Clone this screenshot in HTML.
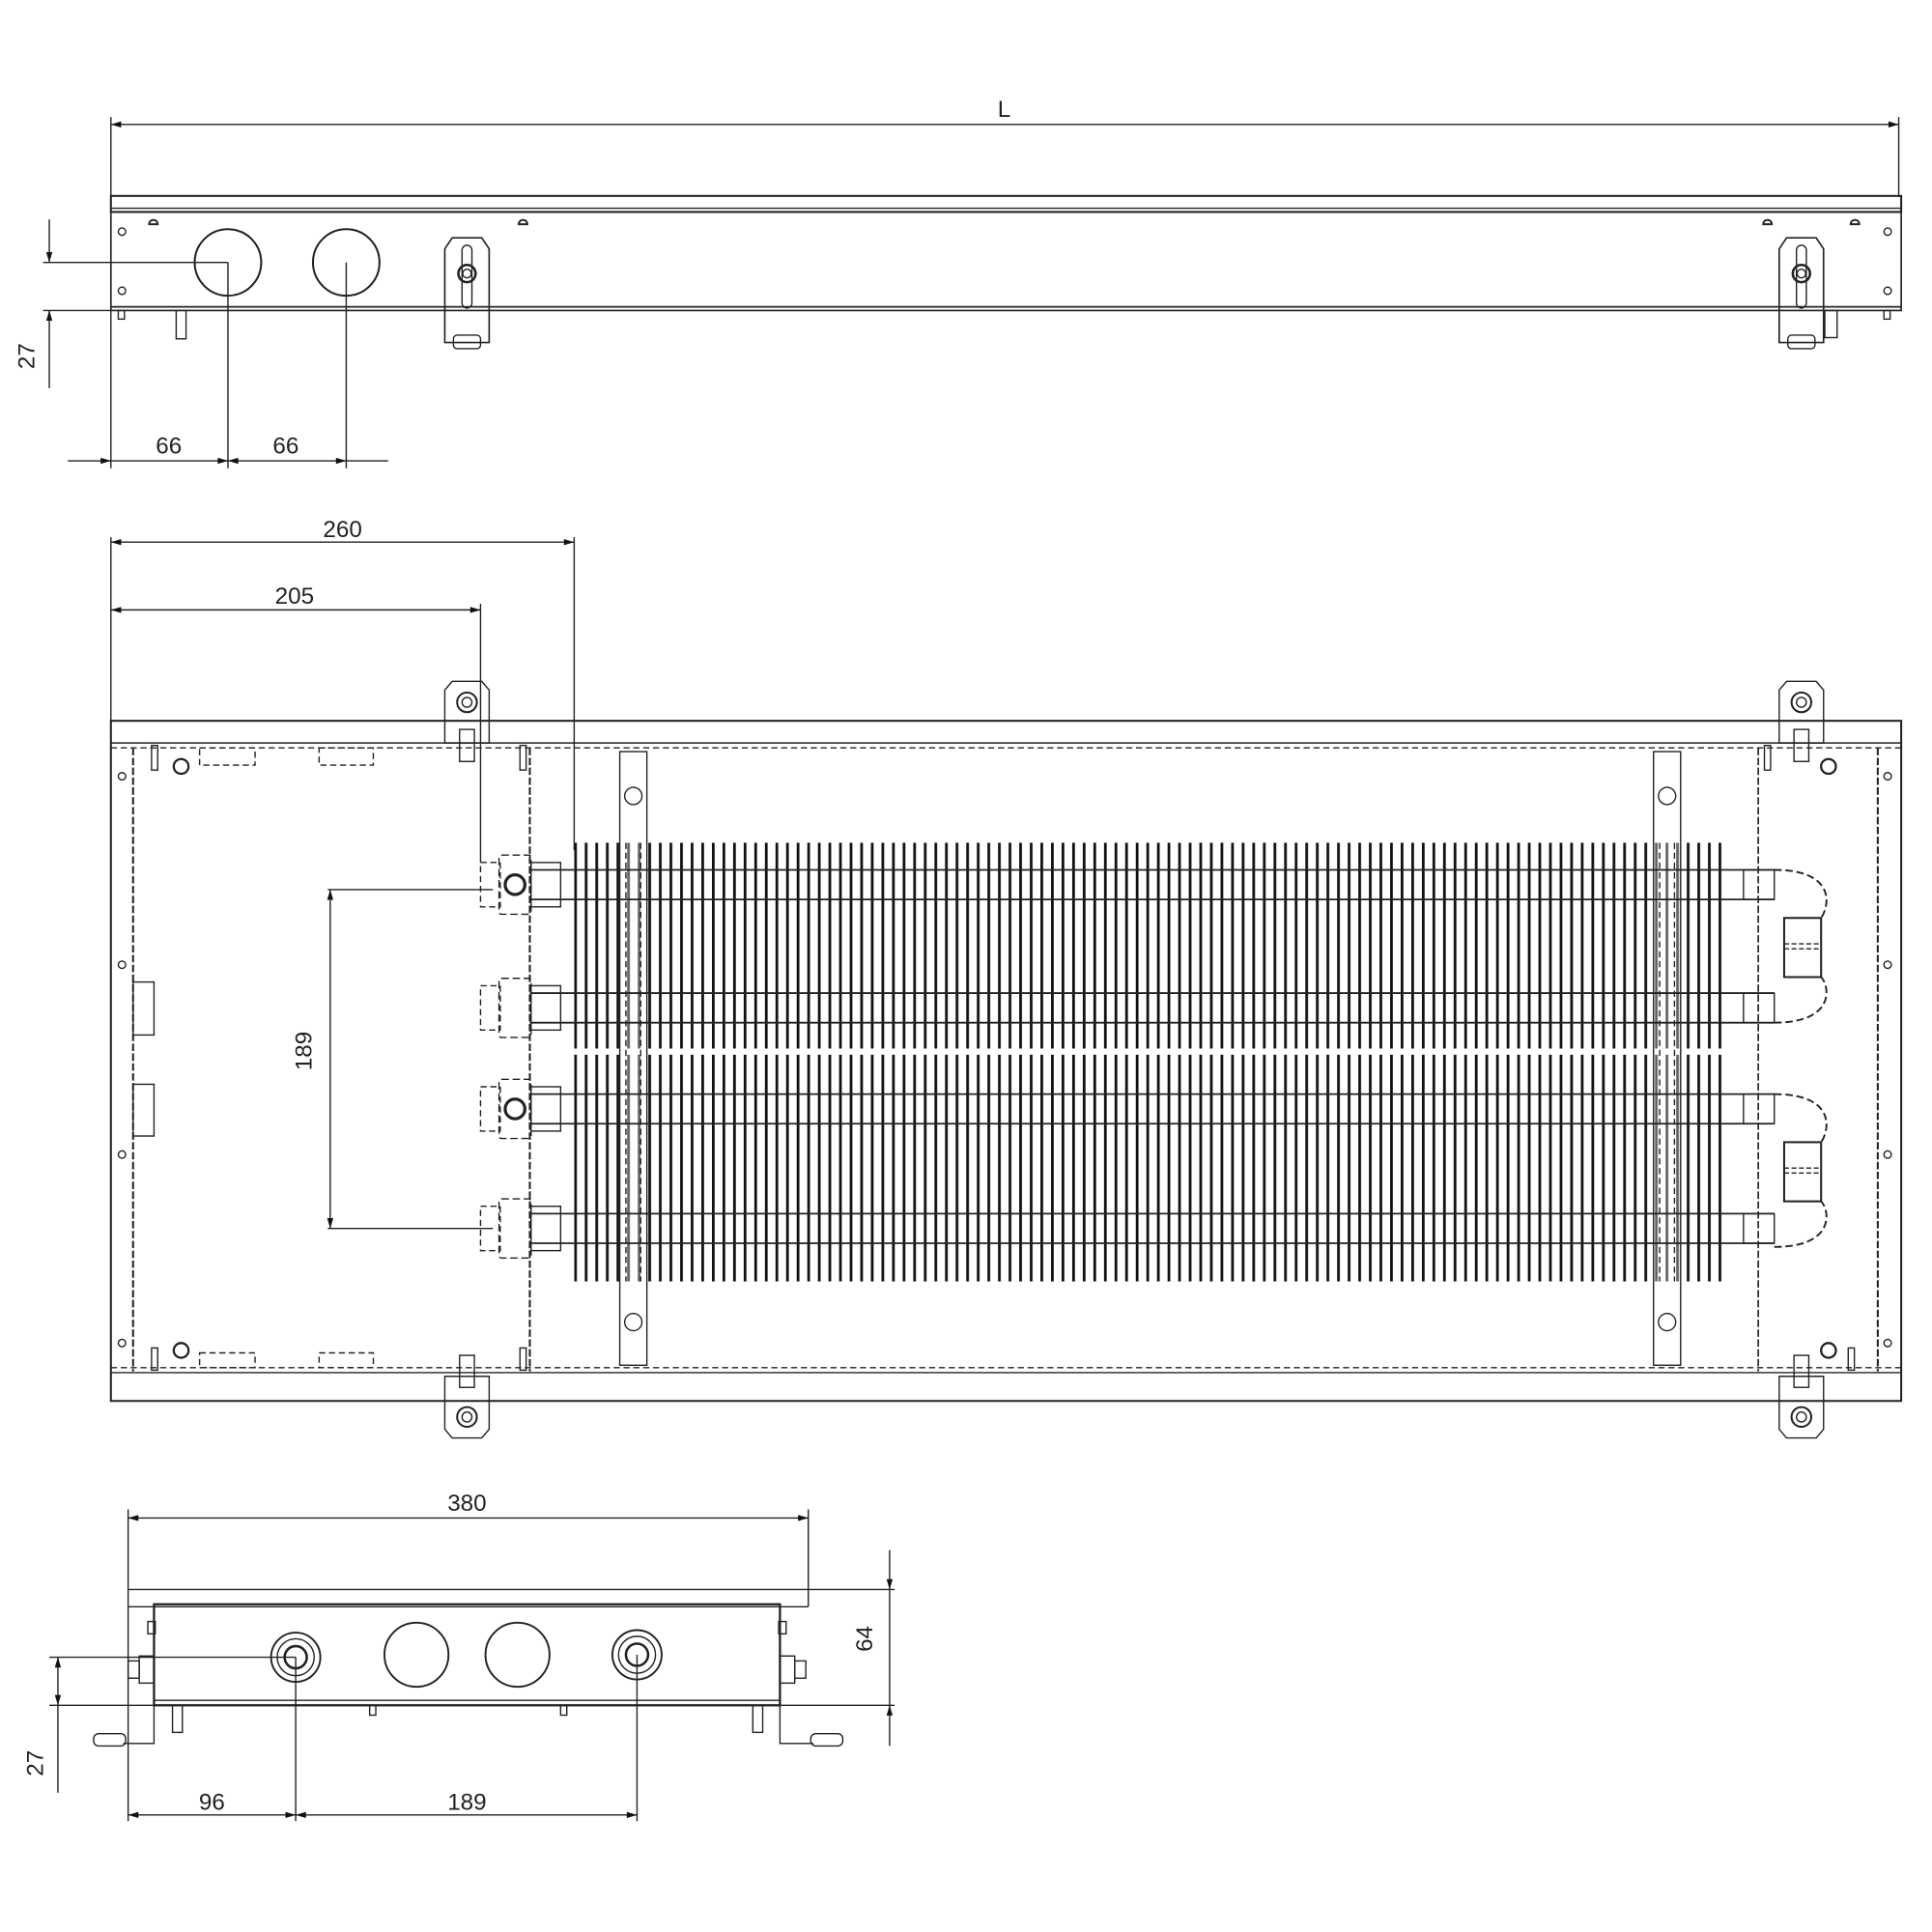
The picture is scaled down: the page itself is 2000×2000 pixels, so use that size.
<!DOCTYPE html>
<html><head><meta charset="utf-8"><style>
html,body{margin:0;padding:0;background:#fff}
svg{display:block}
text{font-family:"Liberation Sans",sans-serif;font-size:19px;fill:#222}
</style></head><body>
<svg width="2000" height="2000" viewBox="0 0 1568 1568" xmlns="http://www.w3.org/2000/svg">
<defs>
<pattern id="fins" x="466" y="0" width="8.6" height="20" patternUnits="userSpaceOnUse">
<rect x="0" y="0" width="2.2" height="20" fill="#111"/>
</pattern>
<marker id="a" viewBox="0 0 10 6" refX="10" refY="3" markerWidth="12" markerHeight="5" orient="auto-start-reverse" markerUnits="userSpaceOnUse"><path d="M0,0 L10,3 L0,6 Z" fill="#111"/></marker>
</defs>
<g fill="none" stroke="#222" stroke-width="1.1">
<line x1="90" y1="101" x2="1541" y2="101" marker-start="url(#a)" marker-end="url(#a)"/>
<line x1="90" y1="95" x2="90" y2="160"/><line x1="1541" y1="95" x2="1541" y2="160"/>
<rect x="90" y="159" width="1453" height="13" stroke-width="1.6"/>
<line x1="90" y1="169" x2="1543" y2="169"/>
<rect x="90" y="172" width="1453" height="80" stroke-width="1.3"/>
<line x1="90" y1="249" x2="1543" y2="249" stroke-width="1.4"/>
<circle cx="185" cy="213" r="27" stroke-width="1.6"/><circle cx="281" cy="213" r="27" stroke-width="1.6"/>
<circle cx="99" cy="188" r="3"/><circle cx="99" cy="236" r="3"/><circle cx="1532" cy="188" r="3"/><circle cx="1532" cy="236" r="3"/>
<path d="M121,182 a3.5,3.5 0 0 1 7,0 z M421,182 a3.5,3.5 0 0 1 7,0 z M1431,182 a3.5,3.5 0 0 1 7,0 z M1502,182 a3.5,3.5 0 0 1 7,0 z" stroke-width="1.5"/>
<rect x="96" y="252" width="5" height="7"/><rect x="1529" y="252" width="5" height="7"/>
<rect x="143" y="252" width="8" height="23"/>
<g id="br1"><path d="M361,202 L367,193 L391,193 L397,202 L397,278 L361,278 Z" stroke-width="1.3"/>
<rect x="375" y="199" width="8" height="51" rx="4"/><circle cx="379" cy="222" r="7" stroke-width="2"/><circle cx="379" cy="222" r="3.5"/>
<rect x="368" y="272" width="22" height="11" rx="3"/></g>
<use href="#br1" x="1083"/>
<rect x="1481" y="252" width="10" height="22"/>
<line x1="35" y1="213" x2="185" y2="213"/><line x1="35" y1="252" x2="90" y2="252"/>
<line x1="40" y1="178" x2="40" y2="213" marker-end="url(#a)"/><line x1="40" y1="315" x2="40" y2="252" marker-end="url(#a)"/>
<line x1="90" y1="252" x2="90" y2="380"/><line x1="185" y1="213" x2="185" y2="380"/><line x1="281" y1="213" x2="281" y2="380"/>
<line x1="55" y1="374" x2="90" y2="374" marker-end="url(#a)"/><line x1="90" y1="374" x2="185" y2="374" marker-end="url(#a)"/>
<line x1="185" y1="374" x2="281" y2="374" marker-start="url(#a)" marker-end="url(#a)"/><line x1="281" y1="374" x2="315" y2="374"/>

<line x1="90" y1="436" x2="90" y2="585"/><line x1="466" y1="436" x2="466" y2="690"/><line x1="390" y1="490" x2="390" y2="700"/>
<line x1="90" y1="440" x2="466" y2="440" marker-start="url(#a)" marker-end="url(#a)"/>
<line x1="90" y1="495" x2="390" y2="495" marker-start="url(#a)" marker-end="url(#a)"/>
<rect x="90" y="585" width="1453" height="552" stroke-width="1.6"/>
<line x1="90" y1="603" x2="1543" y2="603"/><line x1="90" y1="607" x2="1543" y2="607" stroke-dasharray="5,3"/>
<line x1="90" y1="1110" x2="1543" y2="1110" stroke-dasharray="5,3"/><line x1="90" y1="1114" x2="1543" y2="1114"/>
<line x1="108" y1="607" x2="108" y2="1113" stroke-width="1.6" stroke-dasharray="6,2"/>
<line x1="1524" y1="607" x2="1524" y2="1113" stroke-width="1.6" stroke-dasharray="6,2"/>
<line x1="430" y1="607" x2="430" y2="1113" stroke-width="1.6" stroke-dasharray="6,2"/>
<line x1="1427" y1="607" x2="1427" y2="1113" stroke-width="1.3" stroke-dasharray="6,2"/>
<g stroke-dasharray="5,3"><rect x="162" y="607" width="45" height="14"/><rect x="259" y="607" width="44" height="14"/>
<rect x="162" y="1098" width="45" height="12"/><rect x="259" y="1098" width="44" height="12"/></g>
<rect x="108" y="797" width="17" height="43"/><rect x="108" y="880" width="17" height="42"/>
<g stroke-width="1.8"><circle cx="147" cy="622" r="6"/><circle cx="147" cy="1096" r="6"/><circle cx="1484" cy="622" r="6"/><circle cx="1484" cy="1096" r="6"/></g>
<g><circle cx="99" cy="630" r="3"/><circle cx="99" cy="783" r="3"/><circle cx="99" cy="937" r="3"/><circle cx="99" cy="1090" r="3"/>
<circle cx="1532" cy="630" r="3"/><circle cx="1532" cy="783" r="3"/><circle cx="1532" cy="937" r="3"/><circle cx="1532" cy="1090" r="3"/></g>
<rect x="123" y="605" width="5" height="20"/><rect x="123" y="1094" width="5" height="18"/><rect x="422" y="605" width="5" height="20"/><rect x="422" y="1094" width="5" height="18"/>
<rect x="1432" y="605" width="5" height="20"/><rect x="1500" y="1094" width="5" height="18"/>
<g id="pb"><path d="M361,560 L367,553 L391,553 L397,560 L397,603 L361,603 Z"/><circle cx="379" cy="570" r="8" stroke-width="1.6"/><circle cx="379" cy="570" r="4"/><rect x="373" y="592" width="12" height="26"/></g>
<use href="#pb" x="1083"/>
<g id="pb2"><path d="M361,1160 L367,1167 L391,1167 L397,1160 L397,1117 L361,1117 Z"/><circle cx="379" cy="1150" r="8" stroke-width="1.6"/><circle cx="379" cy="1150" r="4"/><rect x="373" y="1100" width="12" height="26"/></g>
<use href="#pb2" x="1083"/>
<rect x="466" y="684" width="934" height="356" fill="url(#fins)" stroke="none"/>
<rect x="466" y="851" width="934" height="5" fill="#fff" stroke="none"/>
<g id="sb"><rect x="503" y="610" width="22" height="498" fill="#fff" fill-opacity="0.35"/>
<line x1="508" y1="684" x2="508" y2="1040" stroke-dasharray="5,3"/><line x1="520" y1="684" x2="520" y2="1040" stroke-dasharray="5,3"/>
<circle cx="514" cy="646" r="7"/><circle cx="514" cy="1073" r="7"/></g>
<use href="#sb" x="839"/>
<g id="tb"><line x1="430" y1="706" x2="1440" y2="706" stroke-width="1.4"/><line x1="430" y1="730" x2="1440" y2="730" stroke-width="1.4"/>
<rect x="390" y="700" width="16" height="36" stroke-dasharray="5,3"/><rect x="405" y="694" width="26" height="48" rx="2" stroke-dasharray="6,3"/>
<rect x="431" y="700" width="24" height="36"/><rect x="1415" y="706" width="25" height="24"/></g>
<use href="#tb" y="100"/><use href="#tb" y="182"/><use href="#tb" y="279"/>
<circle cx="418" cy="718" r="8" stroke-width="2.5"/><circle cx="418" cy="900" r="8" stroke-width="2.5"/>
<g id="ub"><path d="M1440,706 C1490,706 1485,735 1478,745 M1440,830 C1490,830 1485,800 1478,793" stroke-dasharray="6,3" stroke-width="1.5"/>
<rect x="1448" y="745" width="30" height="48" stroke-width="1.6"/><line x1="1448" y1="766" x2="1478" y2="766" stroke-dasharray="4,2"/><line x1="1448" y1="770" x2="1478" y2="770" stroke-dasharray="4,2"/></g>
<use href="#ub" y="182"/>
<line x1="266" y1="722" x2="400" y2="722"/><line x1="266" y1="997" x2="400" y2="997"/>
<line x1="268" y1="722" x2="268" y2="997" marker-start="url(#a)" marker-end="url(#a)"/>

<line x1="104" y1="1225" x2="104" y2="1478"/><line x1="656" y1="1225" x2="656" y2="1290"/>
<line x1="104" y1="1232" x2="656" y2="1232" marker-start="url(#a)" marker-end="url(#a)"/>
<line x1="104" y1="1290" x2="726" y2="1290"/>
<line x1="104" y1="1304" x2="656" y2="1304"/><line x1="656" y1="1290" x2="656" y2="1304"/>
<rect x="125" y="1302" width="508" height="82" stroke-width="1.8"/>
<line x1="125" y1="1380" x2="633" y2="1380"/>
<circle cx="240" cy="1345" r="20" stroke-width="1.5"/><circle cx="240" cy="1345" r="15"/><circle cx="240" cy="1345" r="9" stroke-width="2"/>
<circle cx="517" cy="1343" r="20" stroke-width="1.5"/><circle cx="517" cy="1343" r="15"/><circle cx="517" cy="1343" r="9" stroke-width="2"/>
<circle cx="338" cy="1343" r="26" stroke-width="1.5"/><circle cx="420" cy="1343" r="26" stroke-width="1.5"/>
<path d="M125,1384 L125,1415 L100,1415 M633,1384 L633,1415 L660,1415"/>
<rect x="76" y="1407" width="26" height="10" rx="4"/><rect x="658" y="1407" width="26" height="10" rx="4"/>
<rect x="104" y="1348" width="9" height="14"/><rect x="113" y="1344" width="12" height="22"/>
<rect x="645" y="1348" width="9" height="14"/><rect x="633" y="1344" width="12" height="22"/>
<rect x="140" y="1384" width="8" height="22"/><rect x="611" y="1384" width="8" height="22"/>
<rect x="300" y="1384" width="5" height="8"/><rect x="455" y="1384" width="5" height="8"/>
<rect x="120" y="1316" width="6" height="10"/><rect x="632" y="1316" width="6" height="10"/>
<line x1="633" y1="1384" x2="726" y2="1384"/>
<line x1="722" y1="1258" x2="722" y2="1290" marker-end="url(#a)"/><line x1="722" y1="1417" x2="722" y2="1384" marker-end="url(#a)"/>
<line x1="722" y1="1290" x2="722" y2="1384"/>
<line x1="40" y1="1345" x2="240" y2="1345"/><line x1="40" y1="1384" x2="125" y2="1384"/>
<line x1="47" y1="1345" x2="47" y2="1384" marker-start="url(#a)" marker-end="url(#a)"/><line x1="47" y1="1384" x2="47" y2="1455"/>
<line x1="240" y1="1345" x2="240" y2="1478"/><line x1="517" y1="1343" x2="517" y2="1478"/>
<line x1="104" y1="1473" x2="240" y2="1473" marker-start="url(#a)" marker-end="url(#a)"/>
<line x1="240" y1="1473" x2="517" y2="1473" marker-start="url(#a)" marker-end="url(#a)"/>
</g>
<text x="815" y="95" text-anchor="middle">L</text>
<text x="137" y="368" text-anchor="middle">66</text><text x="232" y="368" text-anchor="middle">66</text>
<text x="35" y="296" text-anchor="middle" transform="rotate(-90 28 296)">27</text>
<text x="278" y="436" text-anchor="middle">260</text><text x="239" y="490" text-anchor="middle">205</text>
<text x="260" y="860" text-anchor="middle" transform="rotate(-90 253 860)">189</text>
<text x="379" y="1226" text-anchor="middle">380</text>
<text x="172" y="1469" text-anchor="middle">96</text><text x="379" y="1469" text-anchor="middle">189</text>
<text x="42" y="1438" text-anchor="middle" transform="rotate(-90 35 1438)">27</text>
<text x="715" y="1337" text-anchor="middle" transform="rotate(-90 708 1337)">64</text>
</svg>
</body></html>
